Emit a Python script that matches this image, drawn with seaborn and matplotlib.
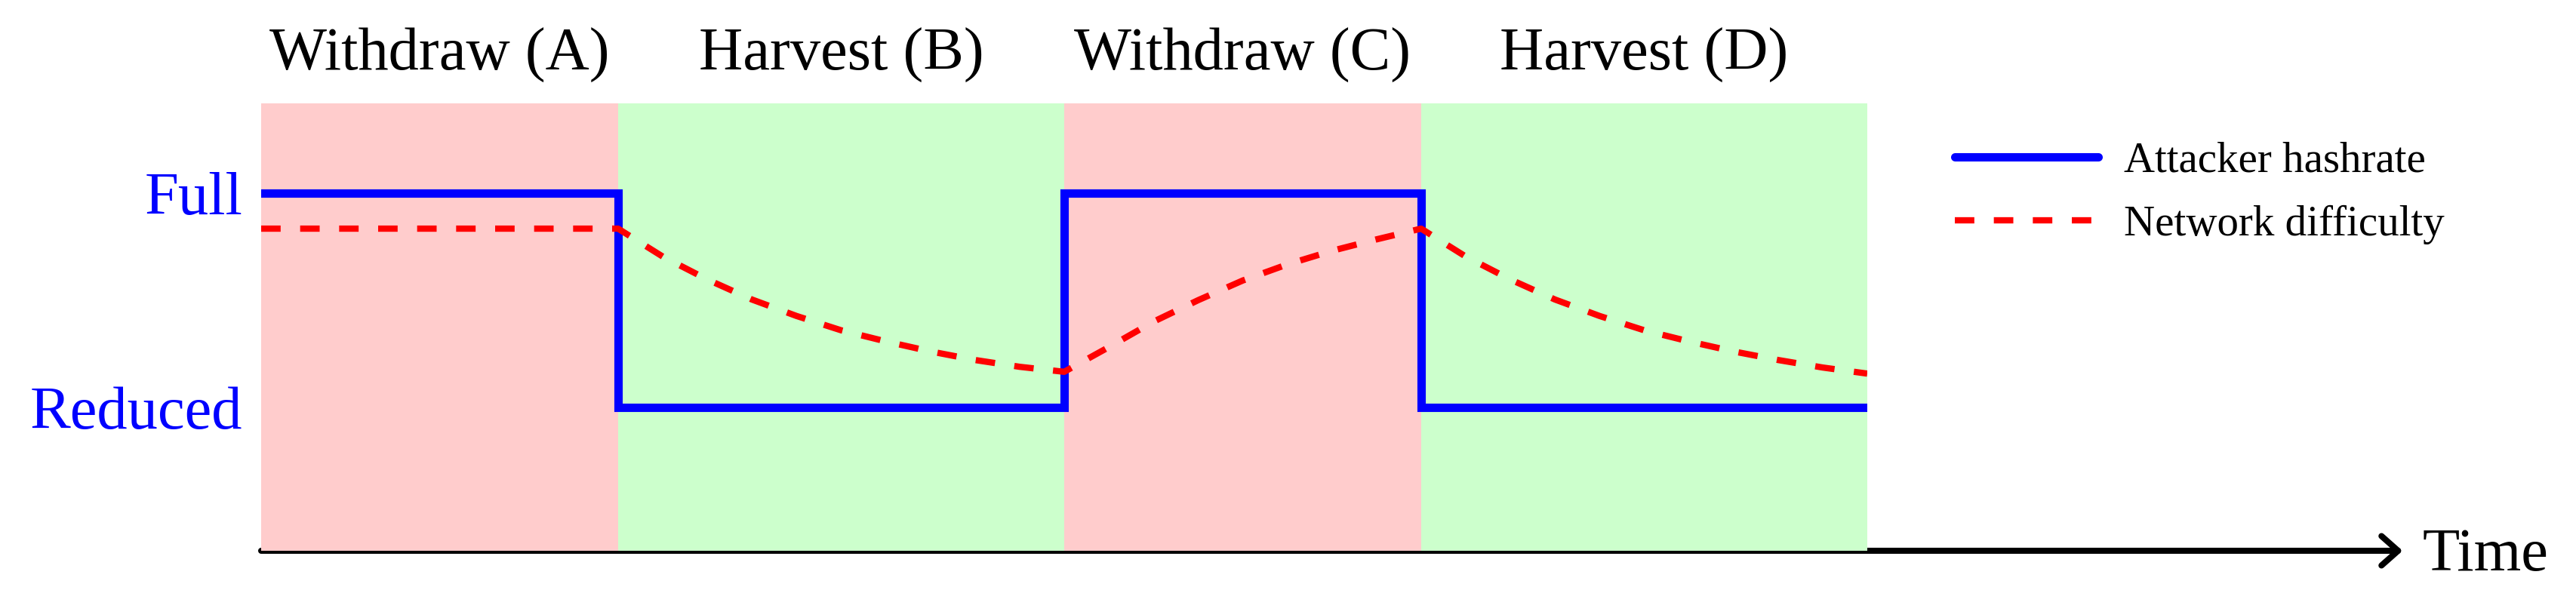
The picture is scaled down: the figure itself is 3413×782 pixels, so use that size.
import matplotlib
matplotlib.use('Agg')
import matplotlib.pyplot as plt
import seaborn as sns

# phases of the attack
phase_names = ['Withdraw (A)', 'Harvest (B)', 'Withdraw (C)', 'Harvest (D)']
phase_starts = [0, 4, 9, 13]
phase_ends = [4, 9, 13, 18]
phase_colors = ['#ffcccc', '#ccffcc', '#ffcccc', '#ccffcc']

# attacker hashrate (step)
hash_t = [0, 4, 9, 13, 18]
hash_level = [1.0, 0.4, 1.0, 0.4, 0.4]

# network difficulty
diff_t = [0, 4, 4.5, 5, 5.5, 6, 6.5, 7, 7.5, 8, 8.5, 9,
          9.5, 10, 10.5, 11, 11.5, 12, 12.5, 13,
          13.5, 14, 14.5, 15, 15.5, 16, 16.5, 17, 17.5, 18]
diff_level = [0.90, 0.90, 0.822, 0.758, 0.702, 0.656, 0.616, 0.585, 0.557, 0.533, 0.514, 0.50,
              0.569, 0.640, 0.700, 0.755, 0.800, 0.838, 0.870, 0.90,
              0.822, 0.758, 0.702, 0.656, 0.616, 0.585, 0.557, 0.533, 0.512, 0.495]

ytick_pos = [0.4, 1.0]
ytick_labels = ['Reduced', 'Full']

sns.set_style('white')
plt.rcParams['font.family'] = ['Liberation Serif', 'DejaVu Serif']
plt.rcParams['text.color'] = 'black'

W, H, DPI = 3413, 782, 200
fig = plt.figure(figsize=(W / DPI, H / DPI), dpi=DPI)
ax = fig.add_axes([346 / W, 1 - 730 / H, (2474 - 346) / W, (730 - 137) / H])

for s, e, c, name in zip(phase_starts, phase_ends, phase_colors, phase_names):
    ax.axvspan(s, e, color=c, lw=0, zorder=0.5)
    ax.text((s + e) / 2, (730 - 93) / 593, name, transform=ax.get_xaxis_transform(),
            ha='center', va='baseline', fontsize=29, color='black')

sns.lineplot(x=hash_t, y=hash_level, ax=ax, color='#0000ff', lw=4,
             drawstyle='steps-post', label='Attacker hashrate', zorder=3)
sns.lineplot(x=diff_t, y=diff_level, ax=ax, color='#ff0000', lw=3.0,
             label='Network difficulty', zorder=4)
ax.lines[1].set_dashes((3.1, 3.1))
ax.lines[0].set_solid_joinstyle('miter')

ax.set_xlim(0, 18)
ax.set_ylim(0, 1.25)
ax.set_xticks([])
ax.set_yticks(ytick_pos, labels=ytick_labels)
ax.tick_params(axis='y', length=0, pad=9, labelsize=29, labelcolor='#0000ff')
for sp in ax.spines.values():
    sp.set_visible(False)

# time arrow along the bottom
ax.annotate('', xy=(24.0, 0), xytext=(0, 0), xycoords='data',
            arrowprops=dict(arrowstyle='->,head_length=0.44,head_width=0.39',
                            lw=2.9, color='black', shrinkA=0, shrinkB=0,
                            mutation_scale=18),
            annotation_clip=False, zorder=0.2)
ax.text(24.22, (730 - 756) / 593 * 1.25, 'Time', ha='left', va='baseline',
        fontsize=29, color='black', clip_on=False)

leg = ax.legend(loc='upper left', bbox_to_anchor=(2590 / W, 1 - 188 / H),
                bbox_transform=fig.transFigure, frameon=False, fontsize=20.5,
                handlelength=3.33, handletextpad=0.6, labelspacing=0.55,
                borderpad=0, borderaxespad=0)
for t in leg.get_texts():
    t.set_color('black')

fig.savefig('out.png', dpi=DPI)
